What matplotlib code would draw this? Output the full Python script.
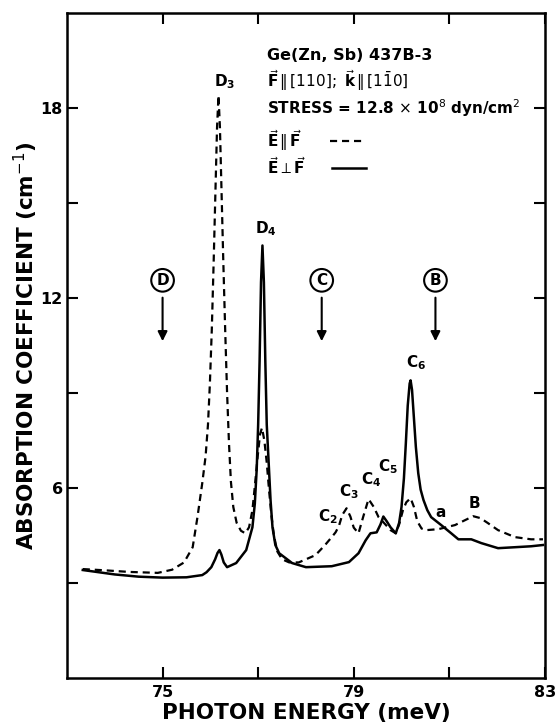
import matplotlib
matplotlib.use("Agg")
import matplotlib.pyplot as plt

plt.rcParams["font.family"] = ["DejaVu Sans"]
plt.rcParams["mathtext.fontset"] = "dejavusans"

# E parallel F (dashed)
par_x = [73.33, 73.8, 74.3, 74.9, 75.2, 75.45, 75.63, 75.73, 75.83, 75.9,
         75.95, 75.99, 76.03, 76.07, 76.11, 76.14, 76.17, 76.2, 76.23, 76.27,
         76.31, 76.35, 76.39, 76.43, 76.48, 76.55, 76.64, 76.73, 76.81, 76.88,
         76.94, 76.99, 77.04, 77.08, 77.13, 77.18, 77.23, 77.28, 77.33, 77.4,
         77.5, 77.65, 77.85, 78.2, 78.4, 78.54, 78.62, 78.69, 78.76, 78.85,
         78.93, 79.0, 79.1, 79.2, 79.31, 79.42, 79.52, 79.62, 79.77, 79.88,
         79.95, 80.03, 80.1, 80.19, 80.26, 80.33, 80.42, 80.52, 80.77, 81.12,
         81.35, 81.5, 81.65, 81.8, 82.02, 82.37, 82.71, 82.96]
par_y = [3.44, 3.40, 3.35, 3.32, 3.42, 3.65, 4.13, 5.08, 6.15, 7.0,
         8.0, 9.3, 11.0, 13.2, 15.6, 17.4, 18.4, 17.4, 15.6, 13.2,
         11.0, 9.0, 7.4, 6.2, 5.4, 4.9, 4.65, 4.57, 4.76, 5.3,
         6.2, 7.0, 7.7, 7.9, 7.5, 6.8, 5.9, 5.1, 4.5, 4.0,
         3.75, 3.65, 3.65, 3.88, 4.2, 4.45, 4.6, 4.8, 5.15, 5.36,
         5.1, 4.75, 4.57, 5.1, 5.65, 5.4, 5.08, 4.92, 4.67, 4.57,
         4.85, 5.3, 5.55, 5.68, 5.4, 4.95, 4.72, 4.67, 4.7, 4.83,
         5.0, 5.11, 5.05, 4.9, 4.67, 4.45, 4.38, 4.38]

# E perpendicular F (solid)
perp_x = [73.33, 74.0, 74.5, 75.0, 75.5, 75.83, 75.92, 76.02, 76.1, 76.15,
          76.19, 76.23, 76.28, 76.35, 76.54, 76.75, 76.88, 76.93, 76.97, 77.0,
          77.03, 77.06, 77.09, 77.12, 77.15, 77.18, 77.22, 77.26, 77.3, 77.36,
          77.44, 77.71, 78.0, 78.54, 78.9, 79.1, 79.25, 79.35, 79.48, 79.56,
          79.62, 79.69, 79.77, 79.88, 79.95, 80.0, 80.05, 80.09, 80.13, 80.17,
          80.19, 80.22, 80.26, 80.3, 80.35, 80.4, 80.46, 80.54, 80.62, 80.83,
          81.04, 81.19, 81.46, 81.67, 82.02, 82.37, 82.71, 82.96]
perp_y = [3.41, 3.27, 3.2, 3.17, 3.18, 3.25, 3.34, 3.5, 3.75, 3.95,
          4.04, 3.9, 3.65, 3.5, 3.63, 4.04, 4.76, 5.5, 6.6, 8.0,
          10.0, 12.5, 13.66, 12.5, 10.0, 8.0, 6.8, 5.6, 4.76, 4.2,
          3.94, 3.63, 3.5, 3.53, 3.66, 3.94, 4.35, 4.57, 4.6, 4.85,
          5.1, 4.95, 4.76, 4.57, 4.9, 5.4, 6.3, 7.4, 8.6, 9.3,
          9.4, 9.1, 8.2, 7.3, 6.47, 5.95, 5.62, 5.3, 5.08, 4.83,
          4.57, 4.38, 4.38, 4.26, 4.1, 4.13, 4.16, 4.2]

xticks = [75, 77, 79, 81, 83]
xtick_labels = ["75", "", "79", "", "83"]
yticks = [3, 6, 9, 12, 15, 18]
ytick_labels = ["", "6", "", "12", "", "18"]

peak_names = ["$\\mathregular{D_3}$", "$\\mathregular{D_4}$", "$\\mathregular{C_6}$",
              "$\\mathregular{C_2}$", "$\\mathregular{C_3}$", "$\\mathregular{C_4}$",
              "$\\mathregular{C_5}$", "a", "B"]
peak_x = [76.29, 77.17, 80.31, 78.46, 78.9, 79.36, 79.72, 80.81, 81.52]
peak_y = [18.85, 14.2, 9.97, 5.08, 5.87, 6.25, 6.68, 5.24, 5.52]

marker_names = ["D", "C", "B"]
marker_x = [75.0, 78.33, 80.71]

fig = plt.figure(figsize=(5.56, 7.28), dpi=100)
ax = fig.add_axes([0.1205, 0.0687, 0.8595, 0.9133])

ax.plot(par_x, par_y, color="black", lw=1.6, ls=(0, (3.2, 2.2)))
ax.plot(perp_x, perp_y, color="black", lw=1.8)

ax.set_xlim(73, 83)
ax.set_ylim(0, 21)
ax.set_xticks(xticks)
ax.set_xticklabels(xtick_labels)
ax.set_yticks(yticks)
ax.set_yticklabels(ytick_labels)
ax.tick_params(direction="in", length=8, width=1.5, top=True, right=True,
               labelsize=11.5, pad=5)
ax.tick_params(axis="y", pad=3)
for lab in ax.get_xticklabels() + ax.get_yticklabels():
    lab.set_fontweight("bold")
for s in ax.spines.values():
    s.set_linewidth(1.8)

ax.set_xlabel("PHOTON ENERGY (meV)", fontsize=15.5, fontweight="bold", labelpad=2)
ax.set_ylabel("ABSORPTION COEFFICIENT (cm$^{-1}$)", fontsize=15.5, fontweight="bold")
ax.yaxis.set_label_coords(-0.057, 0.5)

for name, x, y in zip(peak_names, peak_x, peak_y):
    ax.text(x, y, name, ha="center", va="center", fontsize=11, fontweight="bold")

for name, x in zip(marker_names, marker_x):
    ax.text(x, 12.56, name, ha="center", va="center", fontsize=11, fontweight="bold",
            bbox=dict(boxstyle="circle,pad=0.25", fc="white", ec="black", lw=1.5))
    ax.annotate("", xy=(x, 10.55), xytext=(x, 12.1),
                arrowprops=dict(arrowstyle="-|>", color="black", lw=1.5,
                                mutation_scale=14))

tx = 77.19
fs = 11
ax.text(tx, 19.65, "Ge(Zn, Sb) 437B-3", fontsize=11.5, fontweight="bold", va="center")
ax.text(tx, 18.86, "$\\vec{\\mathbf{F}}\\,\\|\\,[110];\\ \\vec{\\mathbf{k}}\\,\\|\\,[1\\bar{1}0]$",
        fontsize=fs, va="center")
ax.text(tx, 18.0, "STRESS = 12.8 $\\times$ 10$^8$ dyn/cm$^2$", fontsize=fs,
        fontweight="bold", va="center")
ax.text(tx, 16.98, "$\\vec{\\mathbf{E}}\\,\\|\\,\\vec{\\mathbf{F}}$", fontsize=fs, va="center")
ax.text(tx, 16.15, "$\\vec{\\mathbf{E}}\\perp\\vec{\\mathbf{F}}$", fontsize=fs, va="center")
ax.plot([78.5, 79.25], [16.95, 16.95], color="black", lw=1.6, ls=(0, (3.2, 2.2)))
ax.plot([78.55, 79.25], [16.12, 16.12], color="black", lw=1.8)

fig.savefig("out.png", dpi=100)
